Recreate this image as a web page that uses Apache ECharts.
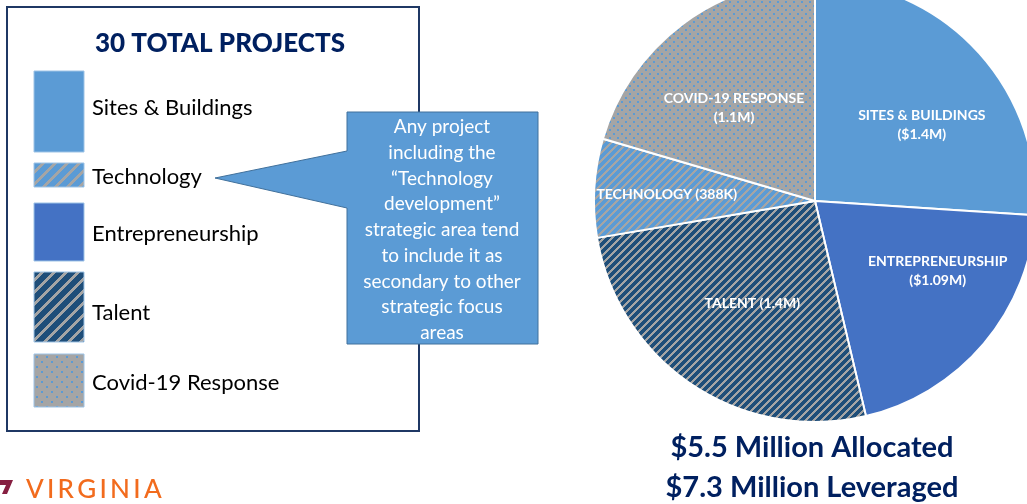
<!DOCTYPE html>
<html>
<head>
<meta charset="utf-8">
<title>30 Total Projects</title>
<script src="https://cdn.jsdelivr.net/npm/echarts@6/dist/echarts.min.js"></script>
<style>
  html, body { margin: 0; padding: 0; background: #fff; }
  #chart { width: 1027px; height: 504px; }
</style>
</head>
<body>
<div id="chart"></div>
<script>
// pie slices, clockwise from 12 o'clock
const categories = ['Sites & Buildings', 'Entrepreneurship', 'Talent', 'Technology', 'Covid-19 Response'];
const allocated = [1.4, 1.09, 1.4, 0.388, 1.1]; // $ millions
const sliceLabels = [
  'SITES & BUILDINGS\n($1.4M)',
  'ENTREPRENEURSHIP\n($1.09M)',
  'TALENT (1.4M)',
  'TECHNOLOGY (388K)',
  'COVID-19 RESPONSE\n(1.1M)'
];

// legend on the left
const legendTitle = '30 TOTAL PROJECTS';
const legendItems = ['Sites & Buildings', 'Technology', 'Entrepreneurship', 'Talent', 'Covid-19 Response'];

const calloutText = [
  'Any project',
  'including the',
  '\u201CTechnology',
  'development\u201D',
  'strategic area tend',
  'to include it as',
  'secondary to other',
  'strategic focus',
  'areas'
];

const summaryLines = ['$5.5 Million Allocated', '$7.3 Million Leveraged'];

const FONT = 'Lato, "Open Sans", sans-serif';
const NAVY = '#002060';

// pixel patterns
function stripes(bg, fg, period, width) {
  const c = document.createElement('canvas');
  c.width = period; c.height = period;
  const ctx = c.getContext('2d');
  ctx.fillStyle = bg;
  ctx.fillRect(0, 0, period, period);
  ctx.fillStyle = fg;
  for (let x = 0; x < period; x++) {
    for (let y = 0; y < period; y++) {
      if ((x + y) % period < width) ctx.fillRect(x, y, 1, 1);
    }
  }
  return c;
}

function dots(bg, fg, step) {
  const c = document.createElement('canvas');
  c.width = step * 2; c.height = step * 2;
  const ctx = c.getContext('2d');
  ctx.fillStyle = bg;
  ctx.fillRect(0, 0, step * 2, step * 2);
  ctx.fillStyle = fg;
  ctx.fillRect(1, 1, 2, 2);
  ctx.fillRect(step + 1, step + 1, 2, 2);
  return c;
}

function fillFor(name, big) {
  const p = big ? 12 : 8;
  switch (name) {
    case 'Sites & Buildings': return '#5b9bd5';
    case 'Entrepreneurship': return '#4472c4';
    case 'Technology': return { image: stripes('#5b9bd5', '#a5a5a5', p, big ? 4 : 3), repeat: 'repeat' };
    case 'Talent': return { image: stripes('#1f4e79', '#a5a5a5', p, big ? 4 : 3), repeat: 'repeat' };
    case 'Covid-19 Response': return { image: dots('#a5a5a5', '#5b9bd5', big ? 5 : 4), repeat: 'repeat' };
  }
}

// swatch boxes (x, y, w, h) in legend order
const swatchBoxes = [
  [34, 71, 50, 81],
  [34, 163, 50, 24],
  [34, 203, 50, 58],
  [34, 272, 50, 70],
  [34, 354, 50, 53]
];
const legendTextY = [108, 177, 234, 313, 383];
const labelOffsets = [[24, 2], [36, -3], [0, 8], [-35, 0], [-13, -2]];

const graphics = [];
graphics.push({
  type: 'rect', z: 1,
  shape: { x: 7, y: 7, width: 412, height: 424 },
  style: { fill: '#fff', stroke: '#1f3864', lineWidth: 2 }
});
graphics.push({
  type: 'text', z: 2, x: 220, y: 44,
  style: { text: legendTitle, fill: NAVY, font: '900 26px ' + FONT, align: 'center', verticalAlign: 'middle' }
});
legendItems.forEach(function (name, i) {
  const b = swatchBoxes[i];
  graphics.push({
    type: 'rect', z: 2,
    shape: { x: b[0], y: b[1], width: b[2], height: b[3] },
    style: { fill: fillFor(name, true), stroke: '#9dc3e6', lineWidth: 1 }
  });
  graphics.push({
    type: 'text', z: 2, x: 92, y: legendTextY[i],
    style: { text: name, fill: '#000', font: '22px ' + FONT, verticalAlign: 'middle' }
  });
});
graphics.push({
  type: 'polygon', z: 3,
  shape: { points: [[347, 112], [538, 112], [538, 344], [347, 344], [347, 208], [215, 178], [347, 151]] },
  style: { fill: '#5b9bd5', stroke: '#41719c', lineWidth: 1 }
});
graphics.push({
  type: 'text', z: 4, x: 442, y: 230,
  style: {
    text: calloutText.join('\n'), fill: '#fff', font: '19px ' + FONT,
    align: 'center', verticalAlign: 'middle', lineHeight: 25.7
  }
});
summaryLines.forEach(function (t, i) {
  graphics.push({
    type: 'text', z: 2, x: 812, y: 448 + i * 40,
    style: { text: t, fill: NAVY, font: 'bold 29px ' + FONT, align: 'center', verticalAlign: 'middle' }
  });
});
// logo fragment
graphics.push({
  type: 'polygon', z: 2,
  shape: { points: [[0, 480], [13, 480], [7, 494], [2, 494], [6, 485], [0, 485]] },
  style: { fill: '#861f41' }
});
graphics.push({
  type: 'text', z: 2, x: 26, y: 490,
  style: {
    text: 'VIRGINIA'.split('').join('\u2009'),
    fill: '#f26b1d', font: '500 26px ' + FONT, verticalAlign: 'middle'
  }
});

const chart = echarts.init(document.getElementById('chart'));
chart.setOption({
  animation: false,
  graphic: graphics,
  series: [{
    type: 'pie',
    center: [815, 201],
    radius: 221,
    startAngle: 90,
    clockwise: true,
    silent: true,
    itemStyle: { borderColor: '#fff', borderWidth: 2 },
    label: {
      show: true, position: 'inside', color: '#fff',
      fontFamily: FONT, fontWeight: 'bold', fontSize: 14, lineHeight: 19, align: 'center'
    },
    labelLine: { show: false },
    data: categories.map(function (name, i) {
      return {
        name: name,
        value: allocated[i],
        itemStyle: { color: fillFor(name, false) },
        label: { formatter: sliceLabels[i], offset: labelOffsets[i] }
      };
    })
  }]
});
</script>
</body>
</html>
